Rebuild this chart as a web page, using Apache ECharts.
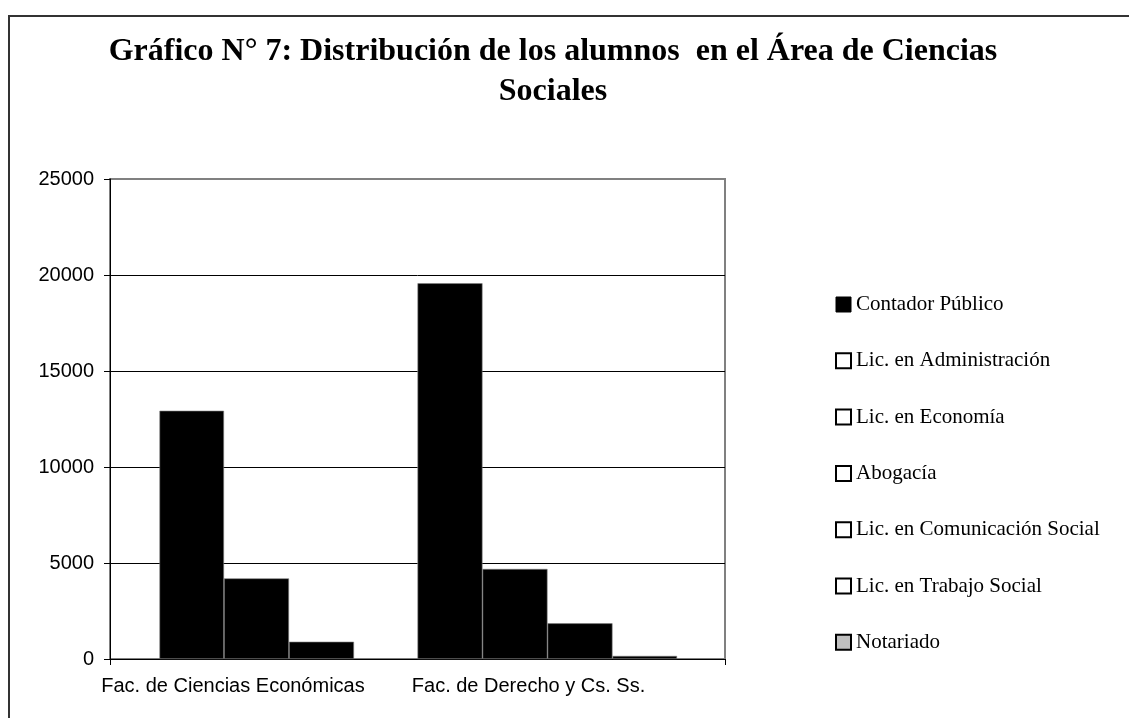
<!DOCTYPE html>
<html>
<head>
<meta charset="utf-8">
<title>Gráfico N° 7</title>
<script src="https://cdn.jsdelivr.net/npm/echarts@6/dist/echarts.min.js"></script>
<style>
  html, body { margin: 0; padding: 0; background: #fff; }
  #main { width: 1129px; height: 718px; }
</style>
</head>
<body>
<div id="main"></div>
<script>
// facultades (eje x)
var facultades = ['Fac. de Ciencias Económicas', 'Fac. de Derecho y Cs. Ss.'];
// carreras, en el orden de la leyenda
var carreras = ['Contador Público', 'Lic. en Administración', 'Lic. en Economía', 'Abogacía',
  'Lic. en Comunicación Social', 'Lic. en Trabajo Social', 'Notariado'];
// alumnos por carrera en cada facultad (null = no se dicta en esa facultad)
var contadorPublico = [12930, null];
var licAdministracion = [4200, null];
var licEconomia = [900, null];
var abogacia = [null, 19570];
var licComunicacion = [null, 4690];
var licTrabajoSocial = [null, 1860];
var notariado = [null, 160];
// escala del eje y
var yMin = 0, yMax = 25000, yPaso = 5000;

var valores = [contadorPublico, licAdministracion, licEconomia, abogacia,
  licComunicacion, licTrabajoSocial, notariado];
// columna que ocupa cada carrera dentro de su facultad
var columna = ['c1', 'c2', 'c3', 'c1', 'c2', 'c3', 'c4'];
// como se ven los cuadritos de la leyenda
var iconos = [
  { color: '#000', borderColor: '#000', borderWidth: 1 },
  { color: '#fff', borderColor: '#000', borderWidth: 2 },
  { color: '#fff', borderColor: '#000', borderWidth: 2 },
  { color: '#fff', borderColor: '#000', borderWidth: 2 },
  { color: '#fff', borderColor: '#000', borderWidth: 2 },
  { color: '#fff', borderColor: '#000', borderWidth: 2 },
  { color: '#c0c0c0', borderColor: '#000', borderWidth: 2 }
];

var chart = echarts.init(document.getElementById('main'), null, { renderer: 'canvas' });

var sans = 'Liberation Sans, Arial, sans-serif';
var serif = 'Liberation Serif, Times New Roman, serif';

var series = carreras.map(function (nombre, i) {
  return {
    name: nombre,
    type: 'bar',
    xAxisIndex: 1,
    yAxisIndex: 1,
    stack: columna[i],
    barWidth: 65,
    barGap: '0%',
    data: valores[i],
    itemStyle: { color: '#000', borderColor: '#808080', borderWidth: 0.6 },
    emphasis: { disabled: true }
  };
});

var option = {
  backgroundColor: '#fff',
  animation: false,
  title: {
    text: 'Gráfico N° 7: Distribución de los alumnos  en el Área de Ciencias\nSociales',
    left: 548,
    top: 27,
    textAlign: 'center',
    textStyle: {
      fontFamily: serif,
      fontWeight: 'bold',
      fontSize: 32,
      lineHeight: 40,
      color: '#000'
    }
  },
  legend: {
    orient: 'vertical',
    left: 830,
    top: 289,
    itemWidth: 15,
    itemHeight: 15,
    itemGap: 35.3,
    icon: 'rect',
    selectedMode: false,
    textStyle: { fontFamily: serif, fontSize: 21, lineHeight: 20, color: '#000' },
    data: carreras.map(function (nombre, i) {
      return { name: nombre, itemStyle: iconos[i] };
    })
  },
  grid: [
    // area del grafico con ejes y lineas
    { left: 110, top: 179, width: 615, height: 480, show: true, borderColor: '#808080', borderWidth: 2 },
    // barras
    { left: 159.75, top: 179, width: 517, height: 480 },
    // rotulos de facultades
    { left: 85.25, top: 179, width: 591, height: 480 }
  ],
  xAxis: [
    {
      gridIndex: 0,
      type: 'category',
      data: facultades,
      axisLine: { lineStyle: { color: '#000', width: 1 } },
      axisTick: {
        show: true, length: 6, lineStyle: { color: '#000' },
        interval: function (idx) { return idx !== 1; }
      },
      axisLabel: { show: false },
      splitLine: { show: false }
    },
    {
      gridIndex: 1,
      type: 'category',
      data: facultades,
      show: false
    },
    {
      gridIndex: 2,
      type: 'category',
      data: facultades,
      axisLine: { show: false },
      axisTick: { show: false },
      axisLabel: { fontFamily: sans, fontSize: 20, color: '#000', margin: 17, interval: 0 }
    }
  ],
  yAxis: [
    {
      gridIndex: 0,
      type: 'value',
      min: yMin, max: yMax, interval: yPaso,
      axisLine: { show: true, lineStyle: { color: '#000', width: 1 } },
      axisTick: { show: true, length: 6, lineStyle: { color: '#000' } },
      axisLabel: {
        fontFamily: sans, fontSize: 20, color: '#000', margin: 16,
        formatter: function (v) { return String(v); }
      },
      splitLine: { show: true, showMaxLine: false, lineStyle: { color: '#000', width: 1 } }
    },
    { gridIndex: 1, type: 'value', min: yMin, max: yMax, show: false },
    { gridIndex: 2, type: 'value', min: yMin, max: yMax, show: false }
  ],
  graphic: [
    {
      type: 'rect',
      shape: { x: 9, y: 16, width: 1200, height: 800 },
      style: { fill: 'none', stroke: '#333', lineWidth: 2 },
      silent: true
    }
  ],
  series: series
};

chart.setOption(option);
</script>
</body>
</html>
